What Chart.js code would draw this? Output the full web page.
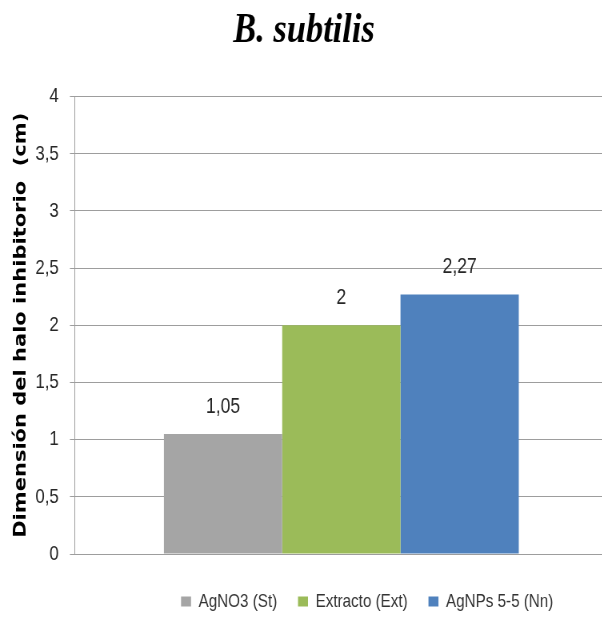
<!DOCTYPE html>
<html>
<head>
<meta charset="utf-8">
<script src="https://cdn.jsdelivr.net/npm/chart.js@4.4.1/dist/chart.umd.min.js"></script>
<style>
  html, body { margin: 0; padding: 0; background: #ffffff; overflow: hidden; }
</style>
</head>
<body>
<!-- the drawing surface is laid out wider and shown condensed, giving the narrow lettering;
     the plot runs slightly past the right edge of the window -->
<canvas id="chart" width="760" height="617" style="display:block;width:608px;height:617px;"></canvas>
<script>
// Data
const chartTitle = 'B. subtilis';
const categories = ['B. subtilis'];
const seriesNames = ['AgNO3 (St)', 'Extracto (Ext)', 'AgNPs 5-5 (Nn)'];
const seriesValues = [1.05, 2, 2.27];
const yAxisTitle = 'Dimensión del halo inhibitorio  (cm)';
const yMin = 0;
const yMax = 4;
const yStep = 0.5;

// Styling
const palette = ['#A5A5A5', '#9BBB59', '#4F81BD'];
const textColor = '#262626';
const gridColor = '#9d9d9d';

const decimalComma = v => String(v).replace('.', ',');

// Writes each bar's value above it
const valueLabels = {
  id: 'valueLabels',
  afterDatasetsDraw(chart) {
    const ctx = chart.ctx;
    ctx.save();
    ctx.font = '22px "Liberation Sans", Arial, sans-serif';
    ctx.fillStyle = textColor;
    ctx.textAlign = 'center';
    ctx.textBaseline = 'alphabetic';
    chart.data.datasets.forEach((ds, i) => {
      const meta = chart.getDatasetMeta(i);
      meta.data.forEach((bar, j) => {
        ctx.fillText(decimalComma(ds.data[j]), bar.x, bar.y - 21);
      });
    });
    ctx.restore();
  }
};

// Moves the legend row to sit under the bars, right of centre
const legendOffset = {
  id: 'legendOffset',
  afterLayout(chart) {
    const lg = chart.legend;
    if (!lg) return;
    const dx = 79, dy = 12;
    lg.left += dx; lg.right += dx;
    lg.top += dy; lg.bottom += dy;
  }
};

const datasets = seriesNames.map((name, i) => ({
  label: name,
  data: [seriesValues[i]],
  backgroundColor: palette[i],
  borderWidth: 0
}));

new Chart(document.getElementById('chart'), {
  type: 'bar',
  data: { labels: categories, datasets },
  options: {
    responsive: false,
    devicePixelRatio: 1,
    animation: false,
    categoryPercentage: 0.6654,
    barPercentage: 1,
    layout: { padding: { left: 0, right: 0, top: 0, bottom: 8 } },
    plugins: {
      title: {
        display: true,
        text: chartTitle,
        color: '#000000',
        font: { family: '"Liberation Serif", "Times New Roman", serif', size: 43, weight: 'bold', style: 'italic', lineHeight: 1.2 },
        padding: { top: 5, bottom: 40 }
      },
      legend: {
        display: true,
        position: 'bottom',
        labels: {
          color: '#333333',
          font: { family: '"Liberation Sans", Arial, sans-serif', size: 19 },
          boxWidth: 12.5,
          boxHeight: 10,
          padding: 26
        }
      },
      tooltip: { enabled: false }
    },
    scales: {
      x: {
        display: false
      },
      y: {
        min: yMin,
        max: yMax,
        ticks: {
          stepSize: yStep,
          color: textColor,
          padding: 14,
          font: { family: '"Liberation Sans", Arial, sans-serif', size: 21 },
          callback: v => decimalComma(v)
        },
        grid: {
          color: gridColor,
          lineWidth: 1,
          tickLength: 6,
          drawTicks: true
        },
        border: { display: true, color: gridColor, width: 1 },
        title: {
          display: true,
          text: yAxisTitle,
          color: '#000000',
          font: { family: '"DejaVu Sans", Verdana, sans-serif', size: 21, weight: 'bold', lineHeight: 1.2 },
          padding: { top: 14, bottom: -9 }
        }
      }
    }
  },
  plugins: [valueLabels, legendOffset]
});
</script>
</body>
</html>
